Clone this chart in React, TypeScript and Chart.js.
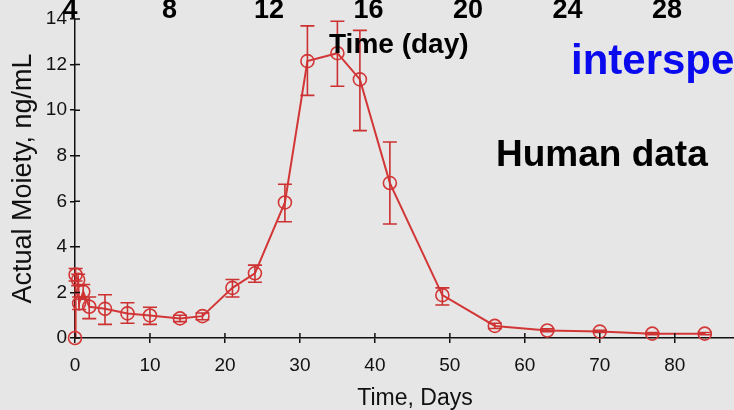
import React, { useEffect, useRef } from "react";
import { Chart, registerables } from "chart.js";

Chart.register(...registerables);

// ---- data ----
const timeDays = [0, 0.08, 0.42, 0.55, 1.1, 1.9, 4, 7, 10, 14, 17, 21, 24, 28, 31, 35, 38, 42, 49, 56, 63, 70, 77, 84];
const moiety = [0, 2.78, 2.55, 1.52, 2.03, 1.37, 1.28, 1.08, 0.99, 0.86, 0.96, 2.2, 2.84, 5.95, 12.15, 12.5, 11.35, 6.8, 1.88, 0.53, 0.33, 0.28, 0.19, 0.19];
const errLow = [0, 2.5, 2.3, 1.25, 1.7, 0.85, 0.6, 0.65, 0.6, 0.72, 0.8, 1.8, 2.45, 5.1, 10.65, 11.05, 9.1, 5.0, 1.45, 0.42, 0.28, 0.24, 0.14, 0.14];
const errHigh = [0, 3.05, 2.8, 1.8, 2.35, 1.8, 1.9, 1.55, 1.35, 1.0, 1.1, 2.57, 3.2, 6.75, 13.7, 13.9, 13.5, 8.6, 2.2, 0.65, 0.4, 0.34, 0.24, 0.24];

const topDayLabels = ["4", "8", "12", "16", "20", "24", "28"];
const yAxisTitle = "Actual Moiety, ng/mL";
const xAxisTitle = "Time, Days";
const overlayTimeTitle = "Time (day)";
const overlayHuman = "Human data";
const overlayBlue = "interspe";

const RED = "#d33636";
const INK = "#111111";
const BG = "#e6e6e6";
const FONT = "'Liberation Sans', Arial, Helvetica, sans-serif";

const bgPlugin = {
  id: "bg",
  beforeDraw(chart: any) {
    const { ctx, width, height } = chart;
    ctx.save();
    ctx.fillStyle = BG;
    ctx.fillRect(0, 0, width, height);
    ctx.restore();
  },
};

const errorBarPlugin = {
  id: "errorBars",
  afterDatasetsDraw(chart: any) {
    const { ctx } = chart;
    const x = chart.scales.x;
    const y = chart.scales.y;
    ctx.save();
    ctx.strokeStyle = "#cc3030";
    ctx.lineWidth = 1.6;
    timeDays.forEach((t, i) => {
      const lo = errLow[i];
      const hi = errHigh[i];
      if (hi - lo <= 0) return;
      const px = x.getPixelForValue(t);
      const y1 = y.getPixelForValue(lo);
      const y2 = y.getPixelForValue(hi);
      ctx.beginPath();
      ctx.moveTo(px, y1);
      ctx.lineTo(px, y2);
      ctx.moveTo(px - 7, y1);
      ctx.lineTo(px + 7, y1);
      ctx.moveTo(px - 7, y2);
      ctx.lineTo(px + 7, y2);
      ctx.stroke();
    });
    ctx.restore();
  },
};

const innerTicksPlugin = {
  id: "innerTicks",
  afterDraw(chart: any) {
    const { ctx, chartArea } = chart;
    const x = chart.scales.x;
    const y = chart.scales.y;
    ctx.save();
    ctx.strokeStyle = INK;
    ctx.lineWidth = 1.5;
    ctx.beginPath();
    x.ticks.forEach((tk: any) => {
      const px = x.getPixelForValue(tk.value);
      ctx.moveTo(px, chartArea.bottom);
      ctx.lineTo(px, chartArea.bottom - 5);
    });
    y.ticks.forEach((tk: any) => {
      const py = y.getPixelForValue(tk.value);
      ctx.moveTo(chartArea.left, py);
      ctx.lineTo(chartArea.left + 5, py);
    });
    ctx.stroke();
    ctx.restore();
  },
};

const overlayTextPlugin = {
  id: "overlayText",
  afterDraw(chart: any) {
    const { ctx } = chart;
    ctx.save();
    // x axis title
    ctx.fillStyle = INK;
    ctx.font = `23px ${FONT}`;
    ctx.textAlign = "center";
    ctx.textBaseline = "alphabetic";
    ctx.fillText(xAxisTitle, 415, 405);

    // cropped slide overlay: top day numbers
    ctx.fillStyle = "#000";
    ctx.font = `bold 27px ${FONT}`;
    ctx.textAlign = "center";
    topDayLabels.forEach((lbl, i) => {
      ctx.fillText(lbl, 70 + i * 99.5, 18);
    });

    ctx.textAlign = "left";
    ctx.font = `bold 28px ${FONT}`;
    ctx.fillText(overlayTimeTitle, 329, 53);

    ctx.font = `bold 37px ${FONT}`;
    ctx.fillText(overlayHuman, 496, 166);

    ctx.fillStyle = "#0a0aee";
    ctx.font = `bold 42px ${FONT}`;
    ctx.fillText(overlayBlue, 571, 74);
    ctx.restore();
  },
};

export default function App() {
  const canvasRef = useRef<HTMLCanvasElement | null>(null);

  useEffect(() => {
    const canvas = canvasRef.current;
    if (!canvas) return;
    const chart = new Chart(canvas, {
      type: "line",
      data: {
        datasets: [
          {
            data: timeDays.map((t, i) => ({ x: t, y: moiety[i] })),
            borderColor: RED,
            borderWidth: 2,
            pointStyle: "circle",
            pointRadius: 6.5,
            pointBorderWidth: 1.6,
            pointBorderColor: RED,
            pointBackgroundColor: "rgba(0,0,0,0)",
            tension: 0,
            clip: false as any,
          },
        ],
      },
      options: {
        responsive: false,
        animation: false,
        devicePixelRatio: 1,
        layout: { autoPadding: false, padding: { top: 19, right: 0, left: 0, bottom: 0 } },
        plugins: {
          legend: { display: false },
          tooltip: { enabled: false },
        },
        scales: {
          x: {
            type: "linear",
            min: 0,
            max: 87.9,
            afterFit(scale: any) {
              scale.height = 72;
              scale.paddingRight = 0;
            },
            ticks: {
              stepSize: 10,
              includeBounds: false,
              color: INK,
              padding: 11,
              maxRotation: 0,
              font: { family: FONT, size: 19 },
            },
            grid: {
              display: true,
              drawOnChartArea: false,
              drawTicks: true,
              tickLength: 5,
              color: INK,
              lineWidth: 1.5,
            },
            border: { display: true, color: INK, width: 1.5 },
          },
          y: {
            type: "linear",
            min: 0,
            max: 14,
            afterFit(scale: any) {
              scale.width = 75;
            },
            ticks: {
              stepSize: 2,
              includeBounds: false,
              color: INK,
              padding: 3,
              font: { family: FONT, size: 19 },
            },
            grid: {
              display: true,
              drawOnChartArea: false,
              drawTicks: true,
              tickLength: 5,
              color: INK,
              lineWidth: 1.5,
            },
            border: { display: true, color: INK, width: 1.5 },
            title: {
              display: true,
              text: yAxisTitle,
              color: INK,
              font: { family: FONT, size: 27 },
              padding: { top: 7, bottom: 0 },
            },
          },
        },
      },
      plugins: [bgPlugin, errorBarPlugin, innerTicksPlugin, overlayTextPlugin],
    });
    return () => chart.destroy();
  }, []);

  return (
    <div style={{ position: "absolute", left: 0, top: 0, width: 734, height: 410, background: BG, overflow: "hidden" }}>
      <canvas ref={canvasRef} width={734} height={410} style={{ display: "block" }} />
    </div>
  );
}
